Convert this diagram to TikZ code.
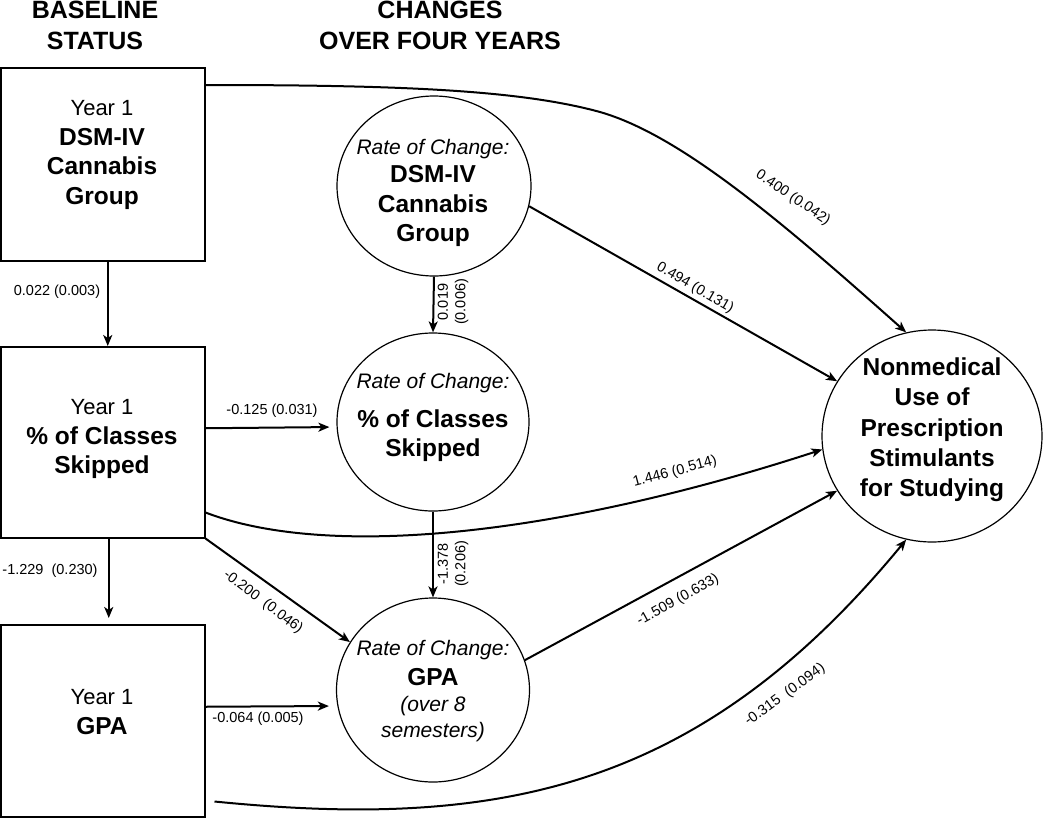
\documentclass[tikz,border=0pt]{standalone}
\usepackage{fontspec}
\setmainfont{Liberation Sans}
\usetikzlibrary{shapes.geometric,arrows.meta}
\newcommand\yrf{\fontsize{22}{29.5}\selectfont\mdseries}
\newcommand\rocf{\fontsize{21}{25}\selectfont\mdseries\itshape}
\begin{document}
\begin{tikzpicture}[x=1pt,y=-1pt,
  boxnode/.style={draw, line width=1.5pt, rectangle, inner sep=0pt, anchor=north west, minimum width=204pt},
  ovalnode/.style={draw, line width=1.2pt, ellipse, inner sep=0pt},
  txt/.style={align=center, inner sep=0pt, font=\fontsize{24.5}{29.5}\selectfont\bfseries},
  hdr/.style={align=center, inner sep=0pt, font=\fontsize{25}{31}\selectfont\bfseries},
  lab/.style={inner sep=0pt, font=\fontsize{14.5}{17.5}\selectfont},
  arr/.style={line width=2pt, -{Stealth[length=11pt,width=9pt,inset=3pt]}}
]
\useasboundingbox (0,0) rectangle (1050,817);

% headers
\node[hdr] (h1) at (95,25) {BASELINE\\STATUS};
\node[hdr] (h2) at (440,25) {CHANGES\\OVER FOUR YEARS};

% boxes
\node[boxnode, minimum height=193pt] (b1) at (0,67) {};
\node[boxnode, minimum height=191pt] (b2) at (0,346) {};
\node[boxnode, minimum height=192pt] (b3) at (0,624) {};

% ovals
\node[ovalnode, minimum width=194pt, minimum height=180pt] (c1) at (434,186) {};
\node[ovalnode, minimum width=192pt, minimum height=178pt] (c2) at (433,422) {};
\node[ovalnode, minimum width=193pt, minimum height=184pt] (c3) at (433,690) {};
\node[ovalnode, minimum width=220pt, minimum height=212pt] (c4) at (932,436) {};

% texts
\node[txt] (t1) at (102,155) {{\yrf Year 1}\\DSM-IV\\Cannabis\\Group};
\node[txt] (t2) at (102,439) {{\yrf Year 1}\\\% of Classes\\Skipped};
\node[txt] (t3) at (102,712) {{\yrf Year 1}\\GPA};
\node[txt] (t4) at (433,193) {{\rocf Rate of Change:}\\[-1.5pt]DSM-IV\\Cannabis\\Group};
\node[txt] (t5) at (433,417.5) {{\rocf Rate of Change:}\\[9pt]\% of Classes\\Skipped};
\node[txt, font=\fontsize{21}{25.5}\selectfont\itshape] (t6) at (433,691) {Rate of Change:\\[4pt]{\fontsize{24.5}{25.5}\selectfont\bfseries\upshape GPA}\\[1pt](over 8\\semesters)};
\node[txt, font=\fontsize{24.5}{30.3}\selectfont\bfseries] (t7) at (932,430) {Nonmedical\\Use of\\Prescription\\Stimulants\\for Studying};

% connectors
\draw[arr] ([yshift=-18pt]b1.north east) .. controls (400,85) and (520,90) .. (600,112) .. controls (680,135) and (780,220) .. (c4.104);
\draw[arr] (c1.-12) -- (c4.150);
\draw[arr, shorten >=7pt] ([yshift=14pt]b2.east) -- ([yshift=-5pt]c2.west);
\draw[arr] ([yshift=26pt]b2.south east) .. controls (330,560) and (560,535) .. (c4.187);
\draw[arr] ([xshift=5pt]b1.south) -- ([xshift=5pt]b2.north);
\draw[arr, shorten >=6pt] ([xshift=6pt]b2.south) -- ([xshift=6pt]b3.north);
\draw[arr] (c1.south) -- (c2.north);
\draw[arr] (c2.south) -- (c3.north);
\draw[arr] (b2.south east) -- (c3.150);
\draw[arr, shorten >=7pt] ([yshift=14pt]b3.east) -- ([yshift=-16pt]c3.west);
\draw[arr] (c3.18) -- (c4.210);
\draw[arr] ([xshift=9pt,yshift=16pt]b3.south east) .. controls (500,830) and (700,790) .. (c4.256);

% labels
\node[lab, rotate=-34] (l1) at (793,198) {0.400 (0.042)};
\node[lab, rotate=-30] (l2) at (695,288) {0.494 (0.131)};
\node[lab] (l3) at (272,411) {-0.125 (0.031)};
\node[lab, rotate=15] (l4) at (675,472) {1.446 (0.514)};
\node[lab] (l5) at (57,292) {0.022 (0.003)};
\node[lab] (l6) at (50,571) {-1.229~ (0.230)};
\node[lab, rotate=90, align=center] (l7) at (453,302) {0.019\\(0.006)};
\node[lab, rotate=90, align=center] (l8) at (453,564) {-1.378\\(0.206)};
\node[lab, rotate=-37] (l9) at (263,602) {-0.200~ (0.046)};
\node[lab] (l10) at (258,719) {-0.064 (0.005)};
\node[lab, rotate=29] (l11) at (678,600) {-1.509 (0.633)};
\node[lab, rotate=36] (l12) at (785,695) {-0.315~ (0.094)};
\end{tikzpicture}
\end{document}
